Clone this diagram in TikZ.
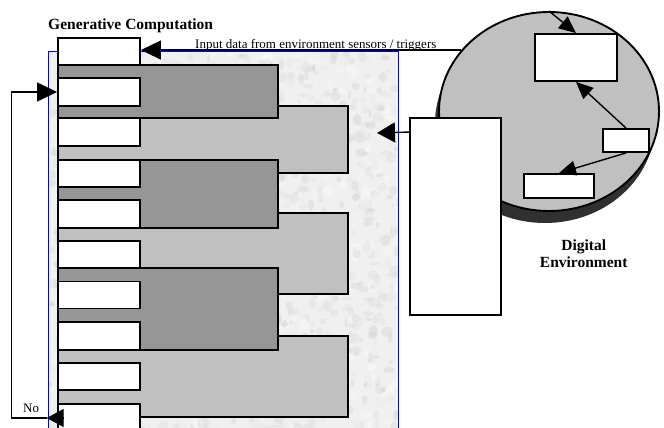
\documentclass[tikz,border=0pt]{standalone}
\usepackage{fontspec}
\setmainfont{Liberation Serif}
\usetikzlibrary{arrows.meta,shapes.geometric,calc}

\definecolor{darkblock}{RGB}{150,150,150}
\definecolor{lightblock}{RGB}{192,192,192}
\definecolor{envfill}{RGB}{192,192,192}
\definecolor{envshade}{RGB}{48,48,48}
\definecolor{framecol}{RGB}{0,0,255}

\tikzset{
  wbox/.style={draw, line width=1.9pt, fill=white, inner sep=0pt, minimum width=82pt},
  dblock/.style={draw, line width=1.9pt, fill=darkblock, inner sep=0pt, minimum width=220pt},
  lblock/.style={draw, line width=1.9pt, fill=lightblock, inner sep=0pt, minimum width=290pt},
  ebox/.style={draw, line width=1.9pt, fill=white, inner sep=0pt},
  bigarr/.style={line width=1.4pt, -{Triangle[length=20pt,width=19pt]}},
  smallarr/.style={line width=1.4pt, -{Triangle[length=17pt,width=15pt]}},
  lbl/.style={inner sep=0pt, font=\fontsize{13}{15}\selectfont},
  ttl/.style={inner sep=0pt, font=\bfseries\fontsize{15.5}{17}\selectfont},
}

\begin{document}
\begin{tikzpicture}[x=1pt, y=-1pt]
\useasboundingbox (0,0) rectangle (664,428);

% mottled background of the computation frame
\begin{scope}
  \clip (49,52) rectangle (399,432);
  \fill[black!6] (49,52) rectangle (399,432);
  \pgfmathsetseed{11}
  \foreach \i in {1,...,1800}{
    \pgfmathsetmacro\px{49+350*rnd}
    \pgfmathsetmacro\py{52+380*rnd}
    \pgfmathsetmacro\rx{1.5+4.5*rnd}
    \pgfmathsetmacro\ry{1.5+4.5*rnd}
    \pgfmathtruncatemacro\sh{1+18*rnd}
    \fill[black!\sh, fill opacity=0.45] (\px,\py) ellipse [x radius=\rx, y radius=\ry];
  }
\end{scope}
\draw[framecol, line width=1.5pt] (48.5,51.7) rectangle (398.5,434);

% light grey groups
\node[lblock, minimum height=67.3pt] (l1) at (203,139.65) {};
\node[lblock, minimum height=81pt]   (l2) at (203,253.8) {};
\node[lblock, minimum height=80.7pt] (l3) at (203,376.35) {};

% dark grey groups
\node[dblock, minimum height=53.6pt] (d1) at (168,91.5) {};
\node[dblock, minimum height=68pt]   (d2) at (168,194) {};
\node[dblock, minimum height=82pt]   (d3) at (168,309) {};

% stacked white steps
\node[wbox, minimum height=27pt] (w1)  at (99,51.5) {};
\node[wbox, minimum height=28pt] (w2)  at (99,92) {};
\node[wbox, minimum height=28pt] (w3)  at (99,132) {};
\node[wbox, minimum height=27pt] (w4)  at (99,173.5) {};
\node[wbox, minimum height=28pt] (w5)  at (99,214) {};
\node[wbox, minimum height=27pt] (w6)  at (99,254.5) {};
\node[wbox, minimum height=27pt] (w7)  at (99,295) {};
\node[wbox, minimum height=28pt] (w8)  at (99,336) {};
\node[wbox, minimum height=27pt] (w9)  at (99,376.5) {};
\node[wbox, minimum height=28pt] (w10) at (99,418) {};

% digital environment disk with its extruded shadow
\foreach \t in {0.25,0.5,0.75,1}{
  \fill[envshade] ($(549,111.5)+\t*(-4,12)$) ellipse [x radius=110, y radius=99.5];
}
\node[ellipse, draw, line width=1.9pt, fill=envfill, inner sep=0pt,
      minimum width=220pt, minimum height=199pt] (env) at (549,111.5) {};

\node[ebox, minimum width=82pt, minimum height=47pt] (etop)   at (576,57.5) {};
\node[ebox, minimum width=46pt, minimum height=23pt] (esmall) at (626,140.5) {};
\node[ebox, minimum width=70pt, minimum height=24pt] (ebl)    at (559,186) {};

\draw[smallarr] (env.north) -- (etop.north);
\draw[smallarr] (esmall.north) -- (etop.south);
\draw[smallarr] (esmall.south) -- (ebl.north);

\node[ttl, align=center, anchor=base] (envlbl) at (583.7,267) {Digital\\Environment};

% output of the environment back into the frame
\node[ebox, minimum width=91pt, minimum height=197pt] (bigbox) at (455.5,216.5) {};
\coordinate (feedpt) at (377,133);
\draw[line width=1.4pt, -{Triangle[length=18pt,width=20pt]}]
  ($(bigbox.north west)+(0,15)$) -- (feedpt);

% sensor input line
\draw[bigarr] (env.145.8) -- (env.145.8 -| w1.east);
\node[lbl, anchor=base west] (inlbl) at (195,48.5) {Input data from environment sensors / triggers};

% heading
\node[ttl, anchor=base west] (head) at (48,30) {Generative Computation};

% "No" feedback loop
\coordinate (notip) at (46.7,418);
\coordinate (loopx) at (11.7,0);
\draw[line width=1.4pt, -{Triangle[length=17pt,width=18pt]}]
  ($(w10.west)+(5.5,0)$) -- (notip);
\draw[bigarr] (notip) -- (notip -| loopx) -- (w2.west -| loopx) -- (w2.west);
\node[lbl, anchor=base west] (nolbl) at (23,412.7) {No};
\end{tikzpicture}
\end{document}
